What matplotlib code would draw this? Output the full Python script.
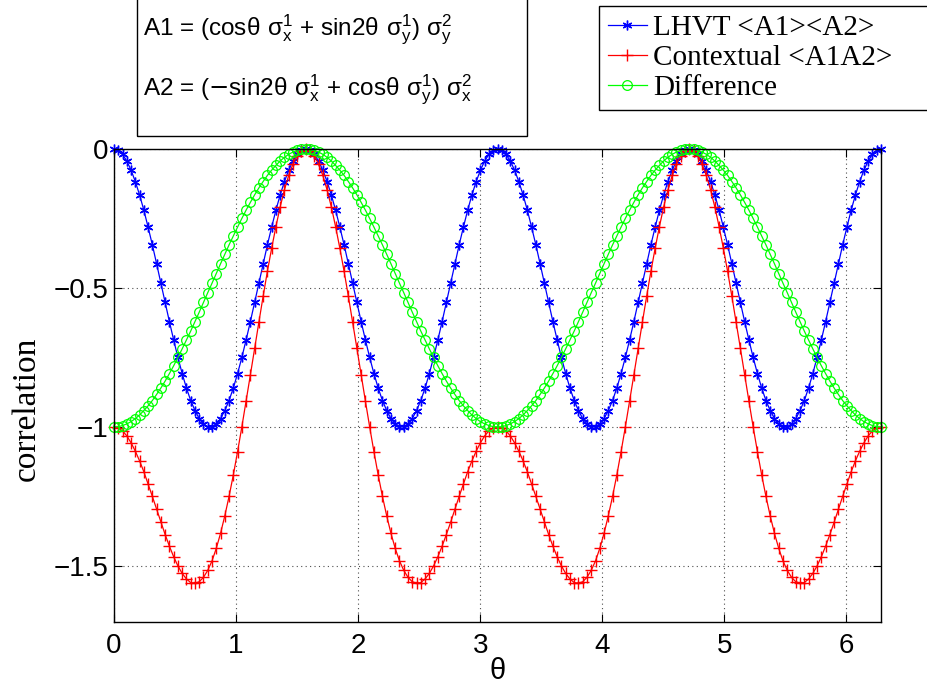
import matplotlib
matplotlib.use('Agg')
import matplotlib.pyplot as plt
from matplotlib.patches import Rectangle
import numpy as np

# sample grid: theta in 2 degree steps, 0 .. 2*pi
theta = np.deg2rad(np.arange(0, 361, 2))

lhvt = [
    0.0, -0.005, -0.019, -0.043, -0.076, -0.117, -0.165, -0.220, -0.281, -0.345, -0.413, -0.483, -0.552, -0.621, -0.687,
    -0.750, -0.808, -0.860, -0.905, -0.941, -0.970, -0.989, -0.999, -0.999, -0.989, -0.970, -0.941, -0.905, -0.860, -0.808,
    -0.750, -0.687, -0.621, -0.552, -0.483, -0.413, -0.345, -0.281, -0.220, -0.165, -0.117, -0.076, -0.043, -0.019, -0.005,
    0.0, -0.005, -0.019, -0.043, -0.076, -0.117, -0.165, -0.220, -0.281, -0.345, -0.413, -0.483, -0.552, -0.621, -0.687,
    -0.750, -0.808, -0.860, -0.905, -0.941, -0.970, -0.989, -0.999, -0.999, -0.989, -0.970, -0.941, -0.905, -0.860, -0.808,
    -0.750, -0.687, -0.621, -0.552, -0.483, -0.413, -0.345, -0.281, -0.220, -0.165, -0.117, -0.076, -0.043, -0.019, -0.005,
    0.0, -0.005, -0.019, -0.043, -0.076, -0.117, -0.165, -0.220, -0.281, -0.345, -0.413, -0.483, -0.552, -0.621, -0.687,
    -0.750, -0.808, -0.860, -0.905, -0.941, -0.970, -0.989, -0.999, -0.999, -0.989, -0.970, -0.941, -0.905, -0.860, -0.808,
    -0.750, -0.687, -0.621, -0.552, -0.483, -0.413, -0.345, -0.281, -0.220, -0.165, -0.117, -0.076, -0.043, -0.019, -0.005,
    0.0, -0.005, -0.019, -0.043, -0.076, -0.117, -0.165, -0.220, -0.281, -0.345, -0.413, -0.483, -0.552, -0.621, -0.687,
    -0.750, -0.808, -0.860, -0.905, -0.941, -0.970, -0.989, -0.999, -0.999, -0.989, -0.970, -0.941, -0.905, -0.860, -0.808,
    -0.750, -0.687, -0.621, -0.552, -0.483, -0.413, -0.345, -0.281, -0.220, -0.165, -0.117, -0.076, -0.043, -0.019, -0.005,
    0.0,
]

contextual = [
    -1.0, -1.004, -1.014, -1.032, -1.057, -1.087, -1.122, -1.161, -1.205, -1.250, -1.296, -1.343, -1.387, -1.429, -1.467,
    -1.500, -1.527, -1.547, -1.560, -1.562, -1.557, -1.541, -1.516, -1.482, -1.437, -1.383, -1.320, -1.250, -1.173, -1.089,
    -1.000, -0.907, -0.813, -0.717, -0.623, -0.530, -0.440, -0.357, -0.279, -0.208, -0.147, -0.095, -0.054, -0.024, -0.006,
    0.0,
    -0.006, -0.024, -0.054, -0.095, -0.147, -0.208, -0.279, -0.357, -0.440, -0.530, -0.623, -0.717, -0.813, -0.907, -1.000,
    -1.089, -1.173, -1.250, -1.320, -1.383, -1.437, -1.482, -1.516, -1.541, -1.557, -1.562, -1.560, -1.547, -1.527, -1.500,
    -1.467, -1.429, -1.387, -1.343, -1.296, -1.250, -1.205, -1.161, -1.122, -1.087, -1.057, -1.032, -1.014, -1.004, -1.0,
    -1.004, -1.014, -1.032, -1.057, -1.087, -1.122, -1.161, -1.205, -1.250, -1.296, -1.343, -1.387, -1.429, -1.467,
    -1.500, -1.527, -1.547, -1.560, -1.562, -1.557, -1.541, -1.516, -1.482, -1.437, -1.383, -1.320, -1.250, -1.173, -1.089,
    -1.000, -0.907, -0.813, -0.717, -0.623, -0.530, -0.440, -0.357, -0.279, -0.208, -0.147, -0.095, -0.054, -0.024, -0.006,
    0.0,
    -0.006, -0.024, -0.054, -0.095, -0.147, -0.208, -0.279, -0.357, -0.440, -0.530, -0.623, -0.717, -0.813, -0.907, -1.000,
    -1.089, -1.173, -1.250, -1.320, -1.383, -1.437, -1.482, -1.516, -1.541, -1.557, -1.562, -1.560, -1.547, -1.527, -1.500,
    -1.467, -1.429, -1.387, -1.343, -1.296, -1.250, -1.205, -1.161, -1.122, -1.087, -1.057, -1.032, -1.014, -1.004, -1.0,
]

difference = [
    -1.0, -0.999, -0.995, -0.989, -0.981, -0.970, -0.957, -0.941, -0.924, -0.905, -0.883, -0.860, -0.835, -0.808, -0.780, -0.750,
    -0.719, -0.687, -0.655, -0.621, -0.587, -0.552, -0.517, -0.483, -0.448, -0.413, -0.379, -0.345, -0.313, -0.281, -0.250,
    -0.220, -0.192, -0.165, -0.140, -0.117, -0.095, -0.076, -0.059, -0.043, -0.030, -0.019, -0.011, -0.005, -0.001, 0.0,
    -0.001, -0.005, -0.011, -0.019, -0.030, -0.043, -0.059, -0.076, -0.095, -0.117, -0.140, -0.165, -0.192, -0.220, -0.250,
    -0.281, -0.313, -0.345, -0.379, -0.413, -0.448, -0.483, -0.517, -0.552, -0.587, -0.621, -0.655, -0.687, -0.719, -0.750,
    -0.780, -0.808, -0.835, -0.860, -0.883, -0.905, -0.924, -0.941, -0.957, -0.970, -0.981, -0.989, -0.995, -0.999, -1.0,
    -0.999, -0.995, -0.989, -0.981, -0.970, -0.957, -0.941, -0.924, -0.905, -0.883, -0.860, -0.835, -0.808, -0.780, -0.750,
    -0.719, -0.687, -0.655, -0.621, -0.587, -0.552, -0.517, -0.483, -0.448, -0.413, -0.379, -0.345, -0.313, -0.281, -0.250,
    -0.220, -0.192, -0.165, -0.140, -0.117, -0.095, -0.076, -0.059, -0.043, -0.030, -0.019, -0.011, -0.005, -0.001, 0.0,
    -0.001, -0.005, -0.011, -0.019, -0.030, -0.043, -0.059, -0.076, -0.095, -0.117, -0.140, -0.165, -0.192, -0.220, -0.250,
    -0.281, -0.313, -0.345, -0.379, -0.413, -0.448, -0.483, -0.517, -0.552, -0.587, -0.621, -0.655, -0.687, -0.719, -0.750,
    -0.780, -0.808, -0.835, -0.860, -0.883, -0.905, -0.924, -0.941, -0.957, -0.970, -0.981, -0.989, -0.995, -0.999, -1.0,
]

series_labels = ['LHVT <A1><A2>', 'Contextual <A1A2>', 'Difference']
xticks = [0, 1, 2, 3, 4, 5, 6]
yticks = [-1.5, -1, -0.5, 0]
ytick_labels = ['\u22121.5', '\u22121', '\u22120.5', '0']
eq_lines = [
    r'A1 = (cos$\mathregular{\theta\ \sigma_x^1}$ + sin2$\mathregular{\theta\ \sigma_y^1}$) $\mathregular{\sigma_y^2}$',
    r'A2 = ($-$sin2$\mathregular{\theta\ \sigma_x^1}$ + cos$\mathregular{\theta\ \sigma_y^1}$) $\mathregular{\sigma_x^2}$',
]

assert len(lhvt) == len(contextual) == len(difference) == len(theta)

plt.rcParams['font.family'] = ['Liberation Sans', 'DejaVu Sans']

W, H = 927, 687
fig = plt.figure(figsize=(W / 100, H / 100), dpi=100)
ax = fig.add_axes([114 / W, (H - 621.5) / H, 767 / W, 472.5 / H])

ax.plot(theta, lhvt, color='b', lw=0.9, marker=(6, 2, 0), ms=7, mew=1.0,
        label=series_labels[0], clip_on=False)
ax.plot(theta, contextual, color='r', lw=0.9, marker='+', ms=8, mew=1.0,
        label=series_labels[1], clip_on=False)
ax.plot(theta, difference, color=(0, 1, 0), lw=0.9, marker='o', ms=7, mew=0.9,
        mfc='none', label=series_labels[2], clip_on=False)

ax.set_xlim(0, 2 * np.pi)
ax.set_ylim(-1.7, 0)
ax.set_xticks(xticks)
ax.set_yticks(yticks)
ax.set_yticklabels(ytick_labels)
ax.tick_params(direction='in', top=True, right=True, length=6, width=0.8, labelsize=20)
ax.tick_params(axis='x', pad=8)
ax.tick_params(axis='y', pad=4)
ax.grid(True, color='0.3', linestyle=(0, (1, 3)), lw=0.8)
for s in ax.spines.values():
    s.set_linewidth(1.0)

ax.set_xlabel('\u03b8', fontsize=21)
ax.xaxis.set_label_coords(0.5, -0.075)
ax.set_ylabel('correlation', fontsize=24, family='Liberation Serif')
ax.yaxis.set_label_coords(-0.094, 0.45)

# legend box, runs off the right edge like the original
leg = fig.legend(loc='upper left', bbox_to_anchor=(599 / W, 1 - 108 / H, 340 / W, 102 / H),
                 mode='expand', borderaxespad=0, prop={'family': 'Liberation Serif', 'size': 21},
                 handlelength=1.35, handletextpad=0.2, labelspacing=0.12, borderpad=0.3,
                 fancybox=False, framealpha=1, edgecolor='k')
leg.get_frame().set_linewidth(1.0)

# equation box top left
fig.add_artist(Rectangle((137 / W, 1 - 136 / H), 390 / W, 0.3, transform=fig.transFigure,
                         fill=False, edgecolor='k', lw=1.0, clip_on=False))
fig.text(143 / W, 1 - 35 / H, eq_lines[0], fontsize=17.5, va='baseline')
fig.text(143 / W, 1 - 95 / H, eq_lines[1], fontsize=17.5, va='baseline')

fig.savefig('out.png', dpi=100)
